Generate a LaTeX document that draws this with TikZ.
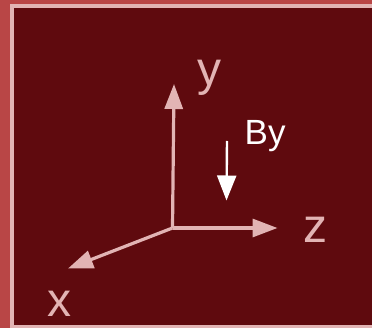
\documentclass[tikz,border=0pt]{standalone}
\usepackage{fontspec}
\setmainfont{Liberation Sans}
\usetikzlibrary{arrows.meta}
\definecolor{outerred}{RGB}{185,70,70}
\definecolor{darkred}{RGB}{95,10,14}
\definecolor{axispink}{RGB}{226,180,180}
\tikzset{
  axis/.style={draw=axispink, line width=3.2pt, -{Triangle[width=18pt,length=25pt]}},
  bfield/.style={draw=white, line width=2.4pt, -{Triangle[width=19pt,length=25pt]}},
  axlabel/.style={text=axispink, font=\fontsize{48}{48}\selectfont, anchor=base, inner sep=0pt},
  blabel/.style={text=white, font=\fontsize{35}{35}\selectfont, anchor=base west, inner sep=0pt}
}
\begin{document}
\begin{tikzpicture}[x=1pt,y=-1pt]
\useasboundingbox (0,0) rectangle (372,328);
\fill[outerred] (0,0) rectangle (372,328);
\draw[axispink, line width=4pt, fill=darkred] (12,6.5) rectangle (380,327.5);
\coordinate (o) at (172.5,228);
\coordinate (ytip) at (174,84);
\coordinate (ztip) at (277.5,228);
\coordinate (xtip) at (68,268.5);
\coordinate (btop) at (227,141);
\coordinate (bbot) at (226.5,200.5);
\draw[axis] (o) -- (ytip);
\draw[axis] (o) -- (ztip);
\draw[axis] (o) -- (xtip);
\draw[bfield] (btop) -- (bbot);
\node[axlabel] (ly) at (209,86) {y};
\node[axlabel] (lz) at (315,243) {z};
\node[axlabel] (lx) at (59,317) {x};
\node[blabel] (lb) at (244.5,145) {By};
\end{tikzpicture}
\end{document}
